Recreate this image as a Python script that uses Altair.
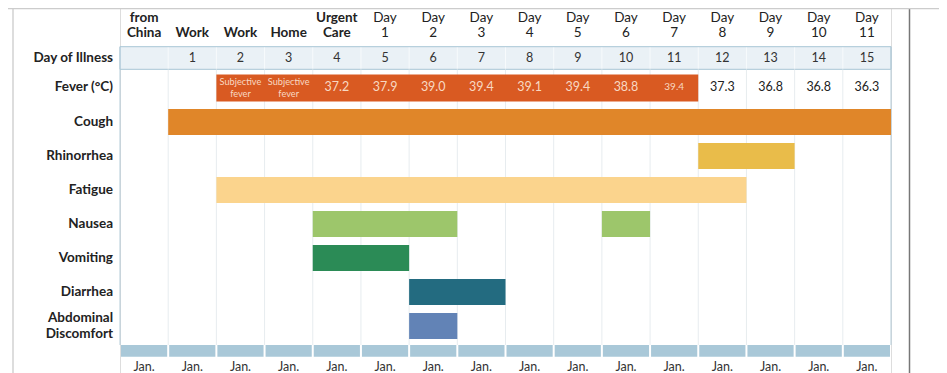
import altair as alt
import pandas as pd

# ---------------- data ----------------
header_top = ["from", "", "", "", "Urgent", "Day", "Day", "Day", "Day", "Day", "Day",
              "Day", "Day", "Day", "Day", "Day"]
header_bottom = ["China", "Work", "Work", "Home", "Care", "1", "2", "3", "4", "5", "6",
                 "7", "8", "9", "10", "11"]
illness_day = ["", "1", "2", "3", "4", "5", "6", "7", "8", "9", "10", "11", "12", "13",
               "14", "15"]
date_labels = ["Jan."] * 16

fever_days = [2, 3, 4, 5, 6, 7, 8, 9, 10, 11, 12, 13, 14, 15]
fever_text = ["Subjective\nfever", "Subjective\nfever", "37.2", "37.9", "39.0", "39.4",
              "39.1", "39.4", "38.8", "39.4", "37.3", "36.8", "36.8", "36.3"]
fever_bar_start = 2
fever_bar_end = 11  # last day with fever bar

symptoms = ["Cough", "Rhinorrhea", "Fatigue", "Nausea", "Vomiting", "Diarrhea",
            "Abdominal\nDiscomfort"]
seg_symptom = ["Cough", "Rhinorrhea", "Fatigue", "Nausea", "Nausea", "Vomiting",
               "Diarrhea", "Abdominal\nDiscomfort"]
seg_first_day = [1, 12, 2, 4, 10, 4, 6, 6]
seg_last_day = [15, 13, 12, 6, 10, 5, 7, 6]
symptom_colors = ["#e08629", "#e9bc4a", "#fbd48d", "#9dc66b", "#2b8b56", "#236b80",
                  "#6283b6"]

# ---------------- layout constants ----------------
FONT = "Lato"
DARK = "#222222"
FS = 13.5
FN = 12.5
N = len(header_bottom)
row_of = {s: i + 2 for i, s in enumerate(symptoms)}  # symptom rows 2..8, fever row 1


def prow(p):
    """convert an image-pixel y to row units"""
    return (p - 122) / 34 + 2


xs = alt.Scale(domain=[0, N], nice=False, zero=False)
ys = alt.Scale(domain=[prow(8), prow(373)], nice=False, zero=False, reverse=True)

cols = pd.DataFrame({"c": list(range(N)), "top": header_top, "bottom": header_bottom,
                     "day": illness_day, "date": date_labels})
cols["bold"] = cols["c"] < 5


def X(field="c"):
    return alt.X(f"{field}:Q", scale=xs, axis=None)


def Y(field="r"):
    return alt.Y(f"{field}:Q", scale=ys, axis=None)


def header(field, p, bold):
    sub = cols[cols["bold"] == bold]
    return alt.Chart(sub).transform_calculate(xc="datum.c + 0.5", r=str(prow(p))).mark_text(
        font=FONT, fontSize=FS, color=DARK, baseline="middle",
        fontWeight="bold" if bold else "normal").encode(
        x=X("xc"), y=Y(), text=f"{field}:N")


heads = [header("top", 17.5, True), header("bottom", 33, True),
         header("top", 17.5, False), header("bottom", 33, False)]

# day-of-illness band
band = alt.Chart(pd.DataFrame({"a": [0], "b": [N]})).transform_calculate(
    r1=str(prow(46.7)), r2=str(prow(69.3))).mark_rect(
    fill="#eaf1f6", stroke="#a8c5d5", strokeWidth=1).encode(
    x=X("a"), x2="b:Q", y=Y("r1"), y2="r2:Q")
day_sep = alt.Chart(cols[cols.c > 0]).transform_calculate(
    r1=str(prow(47.5)), r2=str(prow(68.5))).mark_rule(color="#f7fafc", strokeWidth=1).encode(
    x=X("c"), y=Y("r1"), y2="r2:Q")
day_txt = alt.Chart(cols).transform_calculate(xc="datum.c + 0.5", r=str(prow(58))).mark_text(
    font=FONT, fontSize=FN, color="#333333", baseline="middle").encode(
    x=X("xc"), y=Y(), text="day:N")

# grid lines
grid = alt.Chart(cols[cols.c > 0]).transform_calculate(
    r1=str(prow(69.5)), r2=str(prow(345))).mark_rule(color="#e7ecef", strokeWidth=1).encode(
    x=X("c"), y=Y("r1"), y2="r2:Q")
borders = alt.Chart(pd.DataFrame({"c": [0, N]})).transform_calculate(
    r1=str(prow(46.7)), r2=str(prow(345))).mark_rule(color="#b4ccd9", strokeWidth=1).encode(
    x=X("c"), y=Y("r1"), y2="r2:Q")

# fever bar + values
fever_bar = alt.Chart(pd.DataFrame({"a": [fever_bar_start], "b": [fever_bar_end + 1]})).transform_calculate(
    r1="1 - 0.395", r2="1 + 0.395").mark_rect(color="#d95a22").encode(
    x=X("a"), x2="b:Q", y=Y("r1"), y2="r2:Q")
fev = pd.DataFrame({"c": fever_days, "t": fever_text})
fev["inbar"] = fev["c"] <= fever_bar_end
fev_big = alt.Chart(fev[(fev.c >= 4) & (fev.c != fever_bar_end)]).transform_calculate(
    xc="datum.c + 0.5", r=str(prow(86.5))).mark_text(
    font=FONT, fontSize=FN, baseline="middle").encode(
    x=X("xc"), y=Y(), text="t:N",
    color=alt.condition("datum.inbar", alt.value("#f8d9c3"), alt.value(DARK)))
fev_small = alt.Chart(fev[fev.c == fever_bar_end]).transform_calculate(
    xc="datum.c + 0.5", r=str(prow(86.5))).mark_text(
    font=FONT, fontSize=10, baseline="middle", color="#f8d9c3").encode(
    x=X("xc"), y=Y(), text="t:N")
fev_subj = alt.Chart(fev[fev.c < 4]).transform_calculate(
    xc="datum.c + 0.5", r=str(prow(82))).mark_text(
    font=FONT, fontSize=9.2, baseline="middle", color="#f8d9c3", lineBreak="\n",
    lineHeight=12).encode(
    x=X("xc"), y=Y(), text="t:N")

# symptom bars
segs = pd.DataFrame({"s": seg_symptom, "a": seg_first_day, "b": seg_last_day})
segs["row"] = segs["s"].map(row_of)
bars = alt.Chart(segs).transform_calculate(
    e="datum.b + 1", r1="datum.row - 0.385", r2="datum.row + 0.385").mark_rect().encode(
    x=X("a"), x2="e:Q", y=Y("r1"), y2="r2:Q",
    color=alt.Color("s:N", scale=alt.Scale(domain=symptoms, range=symptom_colors), legend=None))

# row labels (multi-line labels: first line is placed at y, so lift by half a line)
labels = pd.DataFrame({"t": ["Day of Illness", "Fever (°C)"] + symptoms,
                       "r": [prow(58), prow(86.5)] + [row_of[s] for s in symptoms]})
labels["multi"] = labels["t"].str.contains("\n")
row_txt = alt.Chart(labels[~labels.multi]).mark_text(
    font=FONT, fontSize=FS, fontWeight="bold", color=DARK, align="right",
    baseline="middle").encode(
    x=alt.value(-7), y=Y(), text="t:N")
row_txt2 = alt.Chart(labels[labels.multi]).mark_text(
    font=FONT, fontSize=FS, fontWeight="bold", color=DARK, align="right",
    baseline="middle", lineBreak="\n", lineHeight=16, dy=-8).encode(
    x=alt.value(-7), y=Y(), text="t:N")

# bottom date strip
strip = alt.Chart(cols).transform_calculate(
    e="datum.c + 1", r1=str(prow(345)), r2=str(prow(356.7))).mark_rect(
    color="#a9c8d8", xOffset=1, x2Offset=-1).encode(
    x=X("c"), x2="e:Q", y=Y("r1"), y2="r2:Q")
date_txt = alt.Chart(cols).transform_calculate(xc="datum.c + 0.5", r=str(prow(366.5))).mark_text(
    font=FONT, fontSize=FN, color="#333333", baseline="middle").encode(
    x=X("xc"), y=Y(), text="date:N")

# page frame lines
frame_left = alt.Chart(pd.DataFrame({"k": [0]})).mark_rule(color="#bbbbbb").encode(
    x=alt.value(-107), y=alt.value(0), y2=alt.value(365))
frame_right = alt.Chart(pd.DataFrame({"k": [0]})).mark_rule(color="#777777", strokeWidth=1.5).encode(
    x=alt.value(789.5), y=alt.value(0), y2=alt.value(365))
frame_top = alt.Chart(pd.DataFrame({"k": [0]})).mark_rule(color="#cccccc", strokeWidth=1.5).encode(
    x=alt.value(-112), x2=alt.value(820), y=alt.value(0.5))

chart = alt.layer(
    band, day_sep, grid, borders, fever_bar, bars, strip,
    *heads, day_txt, fev_big, fev_small, fev_subj, row_txt, row_txt2, date_txt,
    frame_left, frame_right, frame_top,
).properties(
    width=771, height=365,
    padding={"left": 112, "top": 0, "right": 48, "bottom": 0},
    autosize=alt.AutoSizeParams(type="none"),
).configure_view(stroke=None).configure(background="white")

chart.save("out.html", embed_options={"renderer": "svg", "actions": False})
